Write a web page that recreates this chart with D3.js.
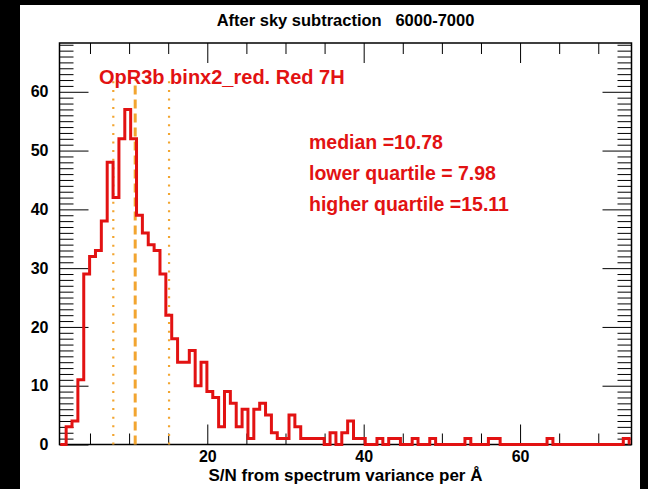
<!DOCTYPE html>
<html>
<head>
<meta charset="utf-8">
<script src="https://cdn.jsdelivr.net/npm/d3@7"></script>
<style>
  html, body { margin: 0; padding: 0; background: #000; }
  svg { display: block; }
  text { font-family: "Liberation Sans", Arial, Helvetica, sans-serif; font-weight: bold; }
</style>
</head>
<body>
<script>
// S/N histogram: bin edges start at binStart, fixed binWidth
const binStart = 1.2;
const binWidth = 0.75;
const counts = [
  0, 3, 4, 11, 29, 32, 33, 38, 48, 42,
  52, 57, 52, 39, 36, 34, 33, 29, 22, 18,
  14, 14, 16, 10, 14, 9, 8, 3, 9, 7,
  3, 6, 1, 6, 7, 5, 2, 1, 1, 5,
  3, 1, 1, 1, 1, 0, 2, 0, 2, 4,
  1, 1, 0, 0, 1, 0, 1, 1, 0, 0,
  1, 0, 0, 1, 0, 0, 0, 0, 0, 1,
  0, 0, 0, 1, 1, 0, 0, 0, 0, 0,
  0, 0, 0, 1, 0, 0, 0, 0, 0, 0,
  0, 0, 0, 0, 0, 0, 1
];

// summary statistics
const median = 10.78;
const lowerQuartile = 7.98;
const higherQuartile = 15.11;

const titleText = "After sky subtraction   6000-7000";
const xLabel = "S/N from spectrum variance per \u00C5";
const sampleLabel = "OpR3b binx2_red. Red 7H";
const statLines = [
  "median =" + median.toFixed(2),
  "lower quartile = " + lowerQuartile.toFixed(2),
  "higher quartile =" + higherQuartile.toFixed(2)
];

const xDomain = [1.1, 74.25];
const yDomain = [0, 68.3];
const xMajor = [20, 40, 60];
const yMajor = [0, 10, 20, 30, 40, 50, 60];

const W = 648, H = 489;
const plotL = 59.5, plotR = 631.5, plotT = 43, plotB = 444.5;
const red = "#e21212";
const orange = "#f2a530";

const svg = d3.select("body").append("svg").attr("width", W).attr("height", H);

// white page area
svg.append("rect").attr("x", 20).attr("y", 5).attr("width", 620).attr("height", H - 5).attr("fill", "#fff");

const x = d3.scaleLinear().domain(xDomain).range([plotL, plotR]);
const y = d3.scaleLinear().domain(yDomain).range([plotB, plotT]);

const g = svg.append("g");

// minor ticks
const xMinor = d3.range(5, 75, 5).filter(v => !xMajor.includes(v));
const yMinor = d3.range(1, 69, 1).filter(v => !yMajor.includes(v));

function axisGroup(axis, tx, ty) {
  const a = g.append("g").attr("transform", `translate(${tx},${ty})`).call(axis);
  a.select(".domain").remove();
  a.selectAll("line").attr("stroke", "#000").attr("stroke-width", 1);
  a.selectAll("text").attr("fill", "#000").style("font-size", "16px")
    .style("font-family", "'Liberation Sans', Arial, sans-serif").style("font-weight", "bold");
  return a;
}

// bottom axis
axisGroup(d3.axisBottom(x).tickValues(xMinor).tickSizeInner(-11).tickFormat(""), 0, plotB);
axisGroup(d3.axisBottom(x).tickValues(xMajor).tickSizeInner(-20).tickPadding(6).tickFormat(d3.format("d")), 0, plotB);
// top axis
axisGroup(d3.axisTop(x).tickValues(xMinor).tickSizeInner(-11).tickFormat(""), 0, plotT);
axisGroup(d3.axisTop(x).tickValues(xMajor).tickSizeInner(-20).tickFormat(""), 0, plotT);
// left axis
axisGroup(d3.axisLeft(y).tickValues(yMinor).tickSizeInner(-14).tickFormat(""), plotL, 0);
axisGroup(d3.axisLeft(y).tickValues(yMajor).tickSizeInner(-29).tickPadding(11).tickFormat(d3.format("d")), plotL, 0);
// right axis
axisGroup(d3.axisRight(y).tickValues(yMinor).tickSizeInner(-14).tickFormat(""), plotR, 0);
axisGroup(d3.axisRight(y).tickValues(yMajor).tickSizeInner(-29).tickFormat(""), plotR, 0);

// frame
g.append("rect").attr("x", plotL).attr("y", plotT).attr("width", plotR - plotL).attr("height", plotB - plotT)
  .attr("fill", "none").attr("stroke", "#000").attr("stroke-width", 1.5);

// quartile and median markers
const markTop = 62;
g.selectAll("line.q").data([lowerQuartile, higherQuartile]).join("line")
  .attr("class", "q")
  .attr("x1", d => x(d)).attr("x2", d => x(d))
  .attr("y1", y(0)).attr("y2", y(markTop))
  .attr("stroke", orange).attr("stroke-width", 2.2).attr("stroke-dasharray", "2,6.6");
g.append("line")
  .attr("x1", x(median)).attr("x2", x(median))
  .attr("y1", y(0)).attr("y2", y(markTop))
  .attr("stroke", orange).attr("stroke-width", 3).attr("stroke-dasharray", "9,5");

// histogram as a step outline
const pts = [];
counts.forEach((c, k) => {
  const e0 = binStart + k * binWidth, e1 = e0 + binWidth;
  if (k === 0) pts.push([e0, 0]);
  pts.push([e0, c], [e1, c]);
});
pts.push([binStart + counts.length * binWidth, 0]);
g.append("path")
  .attr("d", d3.line().x(d => x(d[0])).y(d => y(d[1]))(pts))
  .attr("fill", "none").attr("stroke", red).attr("stroke-width", 3).attr("stroke-linejoin", "miter");

// title
svg.append("text").attr("x", (plotL + plotR) / 2).attr("y", 26).attr("text-anchor", "middle")
  .style("font-size", "16.5px").attr("fill", "#000").style("white-space", "pre").text(titleText);
// x label
svg.append("text").attr("x", (plotL + plotR) / 2).attr("y", 481).attr("text-anchor", "middle")
  .style("font-size", "17px").attr("fill", "#000").text(xLabel);

// sample label
svg.append("text").attr("x", 99).attr("y", 84).style("font-size", "20px").attr("fill", red).text(sampleLabel);

// statistics
svg.selectAll("text.stat").data(statLines).join("text")
  .attr("class", "stat")
  .attr("x", 309).attr("y", (d, i) => 149 + i * 31)
  .style("font-size", "19.5px").attr("fill", red).text(d => d);
</script>
</body>
</html>
